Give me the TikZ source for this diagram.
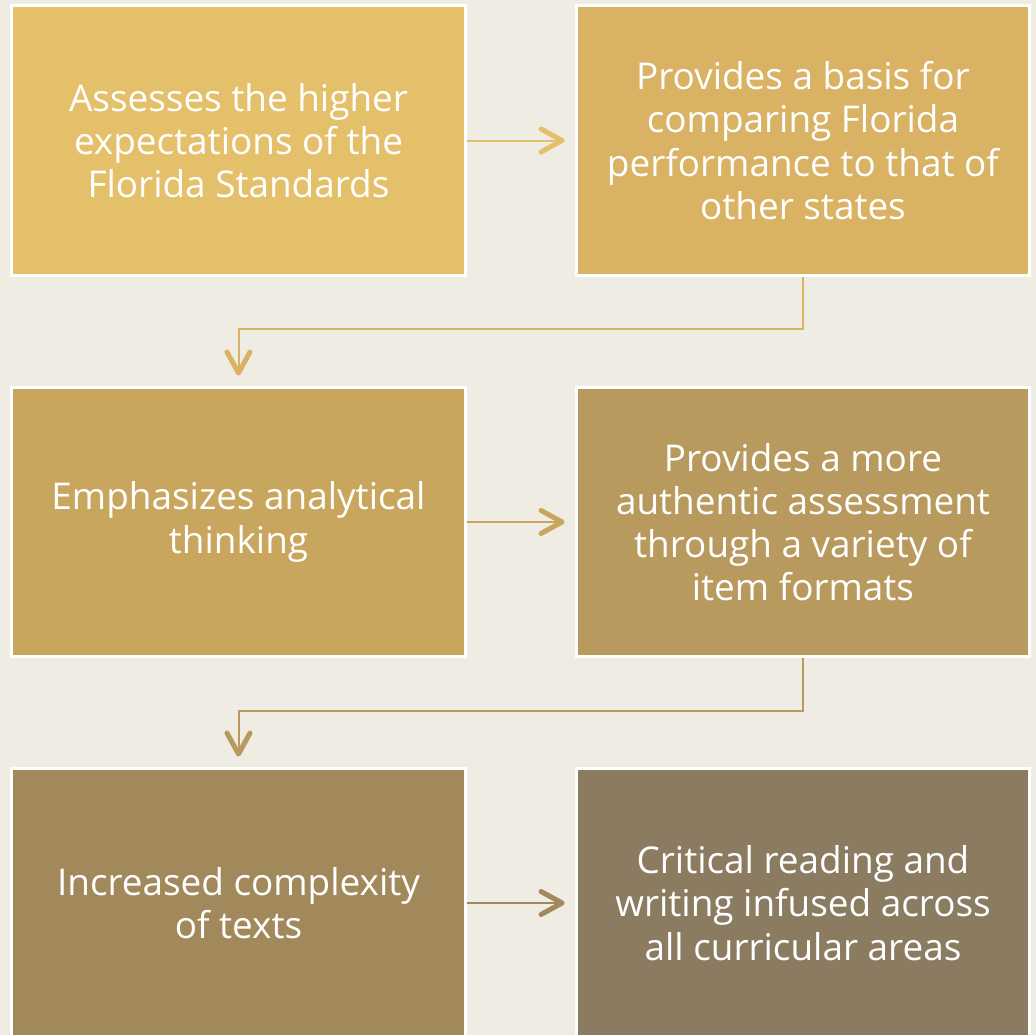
\documentclass[tikz,border=0pt]{standalone}
\usepackage{fontspec}
\setmainfont{Open Sans}
\usetikzlibrary{arrows.meta,positioning}

\definecolor{bgpaper}{HTML}{EFECE4}
\definecolor{goldA}{HTML}{E5C06A}
\definecolor{goldB}{HTML}{D9B263}
\definecolor{goldC}{HTML}{C9A65E}
\definecolor{goldD}{HTML}{B89A5E}
\definecolor{goldE}{HTML}{A2895B}
\definecolor{goldF}{HTML}{8A7B61}

\begin{document}
\begin{tikzpicture}[x=0.02cm, y=-0.02cm,
    box/.style={draw=white, line width=0.06cm, minimum width=9.08cm, minimum height=5.4cm,
        align=center, text=white, font=\fontsize{21}{24.6}\selectfont},
    flow/.style={line width=0.04cm, -{Straight Barb[length=0.42cm, width=0.46cm, line width=0.1cm, round]}}]
    % background
    \fill[bgpaper] (0,0) rectangle (1036,1035);
    \clip (0,0) rectangle (1036,1035);

    % Row 1
    \node[box, fill=goldA] (expect) at (238.5,140.5) {Assesses the higher\\expectations of the\\Florida Standards};
    \node[box, fill=goldB] (compare) at (803,140.5) {Provides a basis for\\comparing Florida\\performance to that of\\other states};

    % Row 2
    \node[box, fill=goldC] (analyt) at (238.5,522) {Emphasizes analytical\\thinking};
    \node[box, fill=goldD] (authentic) at (803,522) {Provides a more\\authentic assessment\\through a variety of\\item formats};

    % Row 3
    \node[box, fill=goldE] (complex) at (238.5,903) {Increased complexity\\of texts};
    \node[box, fill=goldF] (critical) at (803,903) {Critical reading and\\writing infused across\\all curricular areas};

    % Arrows across
    \draw[flow, goldA] (expect.east) -- ([xshift=-0.2cm]compare.west);
    \draw[flow, goldC] (analyt.east) -- ([xshift=-0.2cm]authentic.west);
    \draw[flow, goldE] (complex.east) -- ([xshift=-0.2cm]critical.west);

    % Arrows down to the next row
    \draw[flow, goldB] (compare.south) -- ++(0,52) -| ([yshift=0.2cm]analyt.north);
    \draw[flow, goldD] (authentic.south) -- ++(0,53) -| ([yshift=0.2cm]complex.north);
\end{tikzpicture}
\end{document}
